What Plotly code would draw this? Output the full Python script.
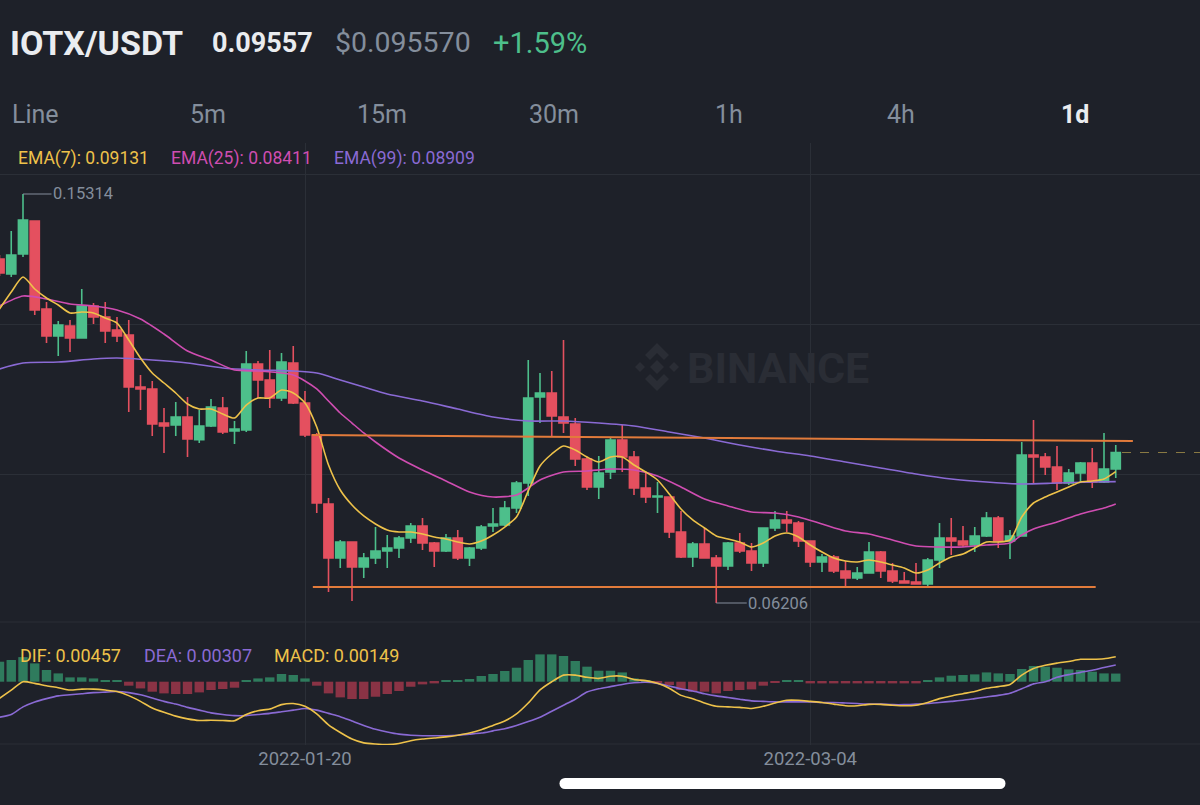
import plotly.graph_objects as go
import pandas as pd

# ---------------- data (daily candles, 2021-12-25 .. 2022-03-30) ----------------
dates = pd.date_range("2021-12-25", "2022-03-30", freq="D")

open_ = [0.13867, 0.13533, 0.13978, 0.14713, 0.12753, 0.12152, 0.12375, 0.12107, 0.12820, 0.12574,
         0.12285, 0.12174, 0.11016, 0.10972, 0.10214, 0.10170, 0.10348, 0.09845, 0.10148, 0.10548,
         0.10037, 0.10059, 0.11528, 0.11172, 0.10771, 0.11550, 0.10660, 0.09947, 0.08411, 0.07208,
         0.07564, 0.07007, 0.07208, 0.07364, 0.07431, 0.07654, 0.07921, 0.07542, 0.07364, 0.07654,
         0.07208, 0.07431, 0.07921, 0.07943, 0.08322, 0.08878, 0.10793, 0.10882, 0.10348, 0.10192,
         0.09413, 0.08789, 0.09123, 0.09836, 0.09457, 0.08767, 0.08566, 0.08566, 0.07787, 0.07230,
         0.07520, 0.07208, 0.07030, 0.07542, 0.07364, 0.07097, 0.07876, 0.08055, 0.07988, 0.07587,
         0.07119, 0.07230, 0.06919, 0.06763, 0.06874, 0.07341, 0.06919, 0.06696, 0.06673, 0.06629,
         0.07164, 0.07654, 0.07587, 0.07498, 0.07699, 0.08099, 0.07587, 0.07699, 0.09502, 0.09457,
         0.09234, 0.08878, 0.09101, 0.09324, 0.08900, 0.09190]
high = [0.13956, 0.14490, 0.15314, 0.14720, 0.12908, 0.12486, 0.12508, 0.13199, 0.12886, 0.12908,
        0.12574, 0.12508, 0.11283, 0.11150, 0.10548, 0.10682, 0.10793, 0.10504, 0.10749, 0.10793,
        0.10259, 0.11818, 0.11595, 0.11840, 0.11773, 0.11929, 0.10927, 0.09992, 0.08544, 0.07609,
        0.07580, 0.07319, 0.07898, 0.07721, 0.07699, 0.07988, 0.08099, 0.07564, 0.07743, 0.07832,
        0.07453, 0.07943, 0.08322, 0.08478, 0.08923, 0.11617, 0.11328, 0.11373, 0.12063, 0.10326,
        0.09457, 0.09480, 0.09902, 0.10170, 0.09591, 0.09101, 0.08900, 0.08575, 0.08255, 0.07564,
        0.07876, 0.07275, 0.07564, 0.07765, 0.07542, 0.07885, 0.08255, 0.08255, 0.08033, 0.07595,
        0.07297, 0.07275, 0.07142, 0.07007, 0.07564, 0.07364, 0.07097, 0.06896, 0.07097, 0.07208,
        0.07988, 0.08099, 0.07921, 0.07898, 0.08232, 0.08144, 0.07832, 0.09791, 0.10281, 0.09546,
        0.09703, 0.09190, 0.09346, 0.09658, 0.09992, 0.09725]
low = [0.13488, 0.13465, 0.13911, 0.12619, 0.11996, 0.11707, 0.11795, 0.12100, 0.12419, 0.11996,
       0.12018, 0.10459, 0.10504, 0.09925, 0.09546, 0.09925, 0.09457, 0.09769, 0.10125, 0.09970,
       0.09747, 0.10014, 0.10771, 0.10548, 0.10705, 0.10638, 0.09902, 0.08210, 0.06451, 0.06985,
       0.06251, 0.06763, 0.07075, 0.06985, 0.07208, 0.07542, 0.07386, 0.07007, 0.07341, 0.07164,
       0.07030, 0.07386, 0.07787, 0.07921, 0.08210, 0.08589, 0.10214, 0.09902, 0.09992, 0.09257,
       0.08723, 0.08522, 0.08968, 0.09123, 0.08611, 0.08433, 0.08210, 0.07654, 0.07208, 0.07007,
       0.07200, 0.06206, 0.06941, 0.07319, 0.06919, 0.07007, 0.07810, 0.07787, 0.07453, 0.07007,
       0.06896, 0.06874, 0.06562, 0.06718, 0.06865, 0.06763, 0.06651, 0.06645, 0.06620, 0.06562,
       0.06985, 0.07275, 0.07453, 0.07341, 0.07676, 0.07431, 0.07186, 0.07690, 0.08878, 0.09057,
       0.08723, 0.08834, 0.08900, 0.08767, 0.08878, 0.08990]
close = [0.13555, 0.13956, 0.14735, 0.12731, 0.12152, 0.12397, 0.12107, 0.12820, 0.12574, 0.12263,
         0.12152, 0.11016, 0.10972, 0.10192, 0.10148, 0.10348, 0.09858, 0.10148, 0.10570, 0.10014,
         0.10081, 0.11528, 0.11172, 0.10771, 0.11572, 0.10660, 0.09947, 0.08433, 0.07208, 0.07564,
         0.07007, 0.07208, 0.07364, 0.07431, 0.07654, 0.07921, 0.07542, 0.07364, 0.07654, 0.07208,
         0.07431, 0.07898, 0.07966, 0.08322, 0.08878, 0.10771, 0.10882, 0.10371, 0.10214, 0.09413,
         0.08789, 0.09101, 0.09836, 0.09457, 0.08767, 0.08566, 0.08589, 0.07787, 0.07230, 0.07520,
         0.07208, 0.07030, 0.07542, 0.07364, 0.07097, 0.07876, 0.08055, 0.07988, 0.07587, 0.07119,
         0.07230, 0.06919, 0.06763, 0.06874, 0.07341, 0.06919, 0.06696, 0.06651, 0.06629, 0.07164,
         0.07654, 0.07587, 0.07498, 0.07699, 0.08099, 0.07587, 0.07699, 0.09502, 0.09457, 0.09234,
         0.08878, 0.09101, 0.09324, 0.08900, 0.09190, 0.09557]

ema7 = [0.12753, 0.13131, 0.13465, 0.13199, 0.12998, 0.12842, 0.12664, 0.12686, 0.12664, 0.12552,
        0.12441, 0.12063, 0.11662, 0.11328, 0.11105, 0.10882, 0.10638, 0.10526, 0.10526, 0.10415,
        0.10326, 0.10615, 0.10771, 0.10771, 0.10949, 0.10882, 0.10660, 0.10125, 0.09279, 0.08723,
        0.08389, 0.08144, 0.07966, 0.07832, 0.07787, 0.07787, 0.07743, 0.07676, 0.07632, 0.07564,
        0.07520, 0.07587, 0.07721, 0.07898, 0.08121, 0.08701, 0.09257, 0.09524, 0.09703, 0.09613,
        0.09457, 0.09346, 0.09457, 0.09457, 0.09279, 0.09123, 0.08945, 0.08634, 0.08300, 0.08055,
        0.07876, 0.07699, 0.07632, 0.07564, 0.07453, 0.07542, 0.07699, 0.07765, 0.07676, 0.07498,
        0.07341, 0.07208, 0.07142, 0.07119, 0.07164, 0.07119, 0.07052, 0.06985, 0.06874, 0.06941,
        0.07097, 0.07230, 0.07297, 0.07431, 0.07564, 0.07564, 0.07609, 0.08121, 0.08433, 0.08566,
        0.08678, 0.08789, 0.08900, 0.08923, 0.08968, 0.09131]
ema25 = [0.12820, None, 0.13043, None, 0.12976, None, 0.12864, None, 0.12820, None,
         0.12731, None, 0.12530, None, 0.12196, None, 0.11818, None, 0.11617, None,
         0.11395, None, 0.11373, None, 0.11328, 0.11283, 0.11150, 0.10972, 0.10705, 0.10437,
         0.10214, 0.09992, 0.09791, None, 0.09435, None, 0.09168, None, 0.08923, None,
         0.08678, None, 0.08566, None, 0.08611, 0.08767, 0.08945, None, 0.09123, None,
         0.09146, None, 0.09190, None, 0.09168, None, 0.09035, None, 0.08789, None,
         0.08522, None, 0.08367, None, 0.08232, None, 0.08210, None, 0.08121, None,
         0.07966, None, 0.07810, None, 0.07743, None, 0.07609, None, 0.07475, None,
         0.07453, None, 0.07453, None, 0.07498, None, 0.07542, 0.07721, 0.07854, None,
         0.08010, None, 0.08188, None, 0.08322, 0.08411]
ema99 = [0.11417, None, 0.11550, None, None, 0.11572, None, None, 0.11640, None,
         0.11662, None, None, 0.11617, None, None, 0.11550, None, None, 0.11439,
         None, None, 0.11395, None, None, 0.11373, None, 0.11328, None, 0.11172,
         None, 0.11016, None, 0.10860, None, None, 0.10705, None, None, 0.10526,
         None, None, 0.10348, None, None, 0.10259, None, None, 0.10259, None,
         None, 0.10214, None, None, 0.10148, None, None, 0.10014, None, None,
         0.09880, None, None, 0.09725, None, None, 0.09591, None, None, 0.09480,
         None, None, 0.09346, None, None, 0.09212, None, None, 0.09079, None,
         None, 0.08968, None, None, 0.08900, None, None, 0.08856, None, None,
         0.08878, None, None, 0.08900, None, 0.08909]

macd_hist = [0.00366, 0.00397, 0.00450, 0.00335, 0.00214, 0.00152, 0.00079, 0.00079, 0.00060, 0.00031,
             0.00031, -0.00073, -0.00123, -0.00183, -0.00214, -0.00225, -0.00225, -0.00196, -0.00152, -0.00134,
             -0.00110, 0.00031, 0.00060, 0.00079, 0.00141, 0.00123, 0.00060, -0.00073, -0.00214, -0.00287,
             -0.00317, -0.00317, -0.00275, -0.00225, -0.00170, -0.00092, -0.00049, -0.00031, 0.00031, 0.00031,
             0.00049, 0.00104, 0.00141, 0.00196, 0.00256, 0.00397, 0.00500, 0.00500, 0.00470, 0.00379,
             0.00275, 0.00201, 0.00201, 0.00170, 0.00060, 0.00027, -0.00018, -0.00060, -0.00152, -0.00183,
             -0.00183, -0.00214, -0.00170, -0.00152, -0.00141, -0.00073, -0.00022, 0.00031, 0.00031, -0.00031,
             -0.00031, -0.00031, -0.00031, -0.00031, -0.00031, -0.00031, -0.00031, -0.00031, -0.00031, 0.00031,
             0.00079, 0.00110, 0.00123, 0.00134, 0.00170, 0.00152, 0.00141, 0.00232, 0.00287, 0.00275,
             0.00256, 0.00225, 0.00214, 0.00183, 0.00152, 0.00149]
dif = [-0.00305, -0.00153, 0.00000, -0.00030, -0.00075, -0.00110, -0.00153, -0.00135, -0.00135, -0.00153,
       -0.00180, -0.00255, -0.00360, -0.00480, -0.00560, -0.00630, -0.00680, -0.00710, -0.00705, -0.00710,
       -0.00715, -0.00600, -0.00530, -0.00500, -0.00420, -0.00400, -0.00450, -0.00590, -0.00790, -0.00930,
       -0.01050, -0.01120, -0.01140, -0.01150, -0.01130, -0.01080, -0.01050, -0.01030, -0.01010, -0.00980,
       -0.00940, -0.00880, -0.00800, -0.00720, -0.00590, -0.00390, -0.00150, 0.00000, 0.00120, 0.00120,
       0.00080, 0.00060, 0.00100, 0.00100, 0.00040, 0.00020, -0.00030, -0.00120, -0.00250, -0.00310,
       -0.00390, -0.00450, -0.00460, -0.00470, -0.00490, -0.00450, -0.00390, -0.00340, -0.00340, -0.00360,
       -0.00380, -0.00410, -0.00440, -0.00440, -0.00415, -0.00415, -0.00430, -0.00440, -0.00430, -0.00380,
       -0.00310, -0.00260, -0.00220, -0.00180, -0.00120, -0.00090, -0.00050, 0.00120, 0.00240, 0.00300,
       0.00340, 0.00370, 0.00410, 0.00410, 0.00420, 0.00457]
dea = [-0.00650, -0.00600, -0.00460, -0.00370, -0.00310, -0.00260, -0.00240, -0.00220, -0.00200, -0.00190,
       -0.00180, -0.00200, -0.00240, -0.00300, -0.00360, -0.00410, -0.00470, -0.00520, -0.00570, -0.00600,
       -0.00620, -0.00620, -0.00600, -0.00580, -0.00550, -0.00520, -0.00490, -0.00520, -0.00580, -0.00640,
       -0.00720, -0.00800, -0.00870, -0.00920, -0.00960, -0.00980, -0.00990, -0.00990, -0.00990, -0.00980,
       -0.00960, -0.00940, -0.00900, -0.00860, -0.00800, -0.00730, -0.00650, -0.00540, -0.00430, -0.00320,
       -0.00190, -0.00130, -0.00090, -0.00050, -0.00020, -0.00010, -0.00030, -0.00080, -0.00130, -0.00170,
       -0.00220, -0.00260, -0.00290, -0.00320, -0.00350, -0.00360, -0.00370, -0.00370, -0.00370, -0.00370,
       -0.00380, -0.00380, -0.00390, -0.00400, -0.00410, -0.00410, -0.00420, -0.00420, -0.00410, -0.00400,
       -0.00380, -0.00360, -0.00340, -0.00310, -0.00280, -0.00250, -0.00210, -0.00130, -0.00040, 0.00000,
       0.00080, 0.00130, 0.00170, 0.00210, 0.00260, 0.00307]

# user-drawn trend lines
resistance_dates = ["2022-01-20 14:00", "2022-03-31 11:00"]
resistance_price = [0.09947, 0.09814]
support_dates = ["2022-01-20 16:00", "2022-03-28 07:00"]
support_price = [0.06562, 0.06562]

# ---------------- style ----------------
W, H = 1200, 805
BG = "#1E2129"
GRID = "#2B2F37"
UP = "#4DBF8B"
DOWN = "#E4505F"
UP_M = "#2F7B5D"
DOWN_M = "#8A3345"
C7 = "#EEC24A"
C25 = "#CF4DB1"
C99 = "#8A6AD4"
GREY = "#848E9C"
WHITE = "#EAECEF"
ORANGE = "#E27B3B"
FONT = "Roboto, sans-serif"


def px(x):
    return x / W


def py(y):
    return 1 - y / H


def price_at(y):
    return 0.196342 - 0.00022269 * y


def macd_at(y):
    return (681.7 - y) * 0.000183


base = pd.Timestamp("2021-12-26")
x_lo = base - pd.Timedelta(days=11.25 / 11.75)
x_hi = base + pd.Timedelta(days=(W - 11.25) / 11.75)

fig = go.Figure()

fig.add_trace(go.Candlestick(
    x=dates, open=open_, high=high, low=low, close=close,
    increasing=dict(line=dict(color=UP, width=1.6), fillcolor=UP),
    decreasing=dict(line=dict(color=DOWN, width=1.6), fillcolor=DOWN),
    whiskerwidth=0, showlegend=False, hoverinfo="skip", xaxis="x", yaxis="y"))

for vals, col in [(ema99, C99), (ema25, C25), (ema7, C7)]:
    fig.add_trace(go.Scatter(x=dates, y=vals, mode="lines", connectgaps=True,
                             line=dict(color=col, width=1.6, shape="spline", smoothing=0.7),
                             hoverinfo="skip", showlegend=False, xaxis="x", yaxis="y"))

fig.add_trace(go.Scatter(x=resistance_dates, y=resistance_price, mode="lines",
                         line=dict(color=ORANGE, width=2), hoverinfo="skip",
                         showlegend=False, xaxis="x", yaxis="y"))
fig.add_trace(go.Scatter(x=support_dates, y=support_price, mode="lines",
                         line=dict(color=ORANGE, width=2), hoverinfo="skip",
                         showlegend=False, xaxis="x", yaxis="y"))

bar_colors = [UP_M if v >= 0 else DOWN_M for v in macd_hist]
fig.add_trace(go.Bar(x=dates, y=macd_hist, marker=dict(color=bar_colors, line=dict(width=0)),
                     hoverinfo="skip", showlegend=False, xaxis="x2", yaxis="y2"))
fig.add_trace(go.Scatter(x=dates, y=dea, mode="lines",
                         line=dict(color=C99, width=1.6, shape="spline", smoothing=0.6),
                         hoverinfo="skip", showlegend=False, xaxis="x2", yaxis="y2"))
fig.add_trace(go.Scatter(x=dates, y=dif, mode="lines",
                         line=dict(color=C7, width=1.6, shape="spline", smoothing=0.6),
                         hoverinfo="skip", showlegend=False, xaxis="x2", yaxis="y2"))

grid_dates = ["2022-01-20", "2022-03-04"]

shapes = []
for yy in (622, 744):
    shapes.append(dict(type="line", xref="paper", yref="paper", x0=0, x1=1,
                       y0=py(yy), y1=py(yy), line=dict(color=GRID, width=1), layer="below"))
# last price dashed line
shapes.append(dict(type="line", xref="paper", yref="y", x0=px(1122), x1=1,
                   y0=close[-1], y1=close[-1], line=dict(color="#8C7B45", width=1, dash="dash")))
# watermark logo
wm = "#2A2D35"
polys = [
    [(657, 360), (664, 367), (657, 374), (650, 367)],
    [(640, 362), (645, 367), (640, 372), (635, 367)],
    [(674, 362), (679, 367), (674, 372), (669, 367)],
    [(645, 355), (657, 343), (669, 355), (664, 360), (657, 353), (650, 360)],
    [(645, 379), (657, 391), (669, 379), (664, 374), (657, 381), (650, 374)],
]
for poly in polys:
    path = "M " + " L ".join(f"{px(a):.5f},{py(b):.5f}" for a, b in poly) + " Z"
    shapes.append(dict(type="path", xref="paper", yref="paper", path=path,
                       fillcolor=wm, line=dict(width=0), layer="below"))
# home indicator
shapes.append(dict(type="rect", xref="paper", yref="paper", x0=px(565), x1=px(1000),
                   y0=py(789), y1=py(778), fillcolor="#FFFFFF", line=dict(width=0)))
for cx in (565, 1000):
    shapes.append(dict(type="circle", xref="paper", yref="paper", x0=px(cx - 5.5), x1=px(cx + 5.5),
                       y0=py(789), y1=py(778), fillcolor="#FFFFFF", line=dict(width=0)))

ann = []


def text(x, y, s, color, size, bold=False, anchor="left"):
    ann.append(dict(x=px(x), y=py(y), xref="paper", yref="paper", text=(f"<b>{s}</b>" if bold else s),
                    showarrow=False, xanchor=anchor, yanchor="middle",
                    font=dict(family=FONT, size=size, color=color)))


text(8, 43, "IOTX/USDT", WHITE, 34, bold=True)
text(210, 43, "0.09557", WHITE, 27, bold=True)
text(333, 43, "$0.095570", GREY, 28.5)
text(491, 43, "+1.59%", UP, 29)

for lbl, cx in [("Line", 35), ("5m", 208), ("15m", 382), ("30m", 554), ("1h", 729), ("4h", 901)]:
    text(cx, 115, lbl, GREY, 25, anchor="center")
text(1075, 115, "1d", WHITE, 25, bold=True, anchor="center")

text(16, 158, "EMA(7): 0.09131", C7, 17.5)
text(169, 158, "EMA(25): 0.08411", C25, 17.5)
text(332, 158, "EMA(99): 0.08909", C99, 17.5)

text(18, 655, "DIF: 0.00457", C7, 18)
text(142, 655, "DEA: 0.00307", C99, 18)
text(272, 655, "MACD: 0.00149", C7, 18)

# watermark text
text(778, 368, "BINANCE", wm, 43, bold=True, anchor="center")

# high / low markers
i_hi = high.index(max(high))
i_lo = low.index(min(low))
ann.append(dict(x=dates[i_hi], y=high[i_hi], xref="x", yref="y", text=f"{high[i_hi]:.5f}",
                showarrow=True, arrowhead=0, arrowwidth=1, arrowcolor=GREY, ax=60, ay=0,
                standoff=0, startstandoff=0, font=dict(family=FONT, size=16.5, color=GREY)))
ann.append(dict(x=dates[i_lo], y=low[i_lo], xref="x", yref="y", text=f"{low[i_lo]:.5f}",
                showarrow=True, arrowhead=0, arrowwidth=1, arrowcolor=GREY, ax=62, ay=0,
                standoff=0, startstandoff=0, font=dict(family=FONT, size=16.5, color=GREY)))

axis_common = dict(type="date", range=[x_lo, x_hi], tickvals=grid_dates, showgrid=True,
                   gridcolor=GRID, gridwidth=1, zeroline=False, showline=False, ticks="",
                   fixedrange=True)

fig.update_layout(
    width=W, height=H, margin=dict(l=0, r=0, t=0, b=0),
    paper_bgcolor=BG, plot_bgcolor=BG, showlegend=False, hovermode=False,
    boxgap=0.22, boxgroupgap=0, bargap=0.2,
    xaxis=dict(**axis_common, domain=[0, 1], anchor="y", showticklabels=False,
               rangeslider=dict(visible=False)),
    xaxis2=dict(**axis_common, domain=[0, 1], anchor="y2", showticklabels=True,
                tickformat="%Y-%m-%d", tickfont=dict(family=FONT, size=18.5, color=GREY)),
    yaxis=dict(domain=[py(622), py(143)], range=[price_at(622), price_at(143)],
               tickvals=[price_at(174), price_at(324), price_at(474)], showticklabels=False,
               showgrid=True, gridcolor=GRID, zeroline=False, showline=False, fixedrange=True),
    yaxis2=dict(domain=[py(745), py(622)], range=[macd_at(745), macd_at(622)],
                showgrid=False, showticklabels=False, zeroline=False, showline=False,
                fixedrange=True),
    shapes=shapes, annotations=ann,
)

fig.write_html("out.html", config={"displayModeBar": False})
